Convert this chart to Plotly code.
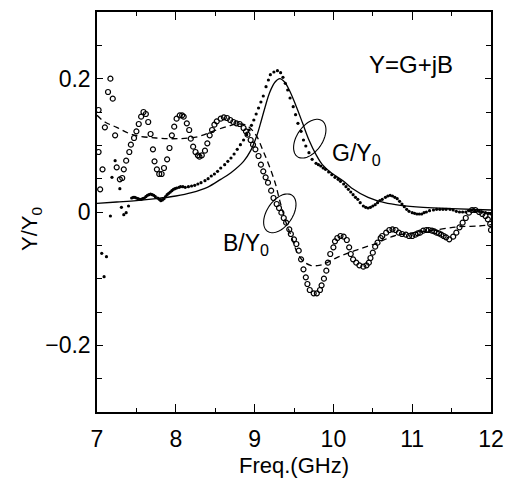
import numpy as np
import plotly.graph_objects as go

# ---------------- data ----------------
# Measured B/Y0 (open circles)
b_meas_f = [7.02, 7.04, 7.02, 7.07, 7.10, 7.14, 7.17, 7.20, 7.23, 7.25, 7.29, 7.32, 7.34, 7.37, 7.41,
            7.43, 7.47, 7.50, 7.53, 7.56, 7.59, 7.62, 7.65, 7.68, 7.71, 7.73, 7.76, 7.79, 7.82, 7.85,
            7.89, 7.92, 7.95, 7.98, 8.01, 8.05, 8.08, 8.10, 8.14, 8.17, 8.19, 8.22, 8.25, 8.28, 8.30,
            8.33, 8.37, 8.40, 8.43, 8.46, 8.49, 8.52, 8.57, 8.61, 8.65, 8.69, 8.73, 8.77, 8.81, 8.86,
            8.89, 8.91, 8.95, 8.98, 9.01, 9.05, 9.08, 9.11, 9.14, 9.17, 9.21, 9.24, 9.28, 9.31, 9.34,
            9.37, 9.40, 9.44, 9.46, 9.50, 9.53, 9.56, 9.59, 9.62, 9.65, 9.67, 9.70, 9.75, 9.79, 9.83,
            9.85, 9.88, 9.91, 9.93, 9.96, 10.00, 10.02, 10.05, 10.09, 10.13, 10.17, 10.20, 10.22, 10.25,
            10.29, 10.33, 10.38, 10.42, 10.45, 10.47, 10.50, 10.53, 10.56, 10.60, 10.62, 10.67, 10.71,
            10.75, 10.79, 10.83, 10.87, 10.92, 10.96, 11.00, 11.04, 11.07, 11.10, 11.14, 11.18, 11.21,
            11.25, 11.28, 11.31, 11.34, 11.37, 11.40, 11.43, 11.47, 11.52, 11.56, 11.60, 11.64, 11.68,
            11.72, 11.76, 11.80, 11.85, 11.89, 11.93, 11.96, 11.99, 12.00]
b_meas = [0.153, 0.034, 0.090, 0.064, 0.127, 0.180, 0.200, 0.170, 0.115, 0.067, 0.049, 0.051, 0.064, 0.077, 0.090,
          0.101, 0.111, 0.121, 0.132, 0.143, 0.150, 0.147, 0.135, 0.117, 0.094, 0.076, 0.064, 0.057, 0.057, 0.066,
          0.079, 0.096, 0.115, 0.128, 0.140, 0.145, 0.145, 0.143, 0.133, 0.123, 0.110, 0.098, 0.090, 0.085, 0.083,
          0.085, 0.092, 0.103, 0.115, 0.123, 0.131, 0.136, 0.140, 0.142, 0.141, 0.138, 0.135, 0.133, 0.132, 0.126,
          0.121, 0.116, 0.108, 0.101, 0.094, 0.084, 0.071, 0.061, 0.052, 0.044, 0.032, 0.021, 0.012, 0.006, -0.001,
          -0.009, -0.016, -0.026, -0.033, -0.041, -0.048, -0.058, -0.071, -0.086, -0.098, -0.108, -0.117, -0.122, -0.122, -0.117,
          -0.110, -0.100, -0.088, -0.076, -0.063, -0.053, -0.044, -0.039, -0.036, -0.037, -0.042, -0.053, -0.063, -0.071,
          -0.076, -0.080, -0.082, -0.080, -0.076, -0.069, -0.061, -0.052, -0.046, -0.039, -0.036, -0.031, -0.027,
          -0.026, -0.027, -0.031, -0.033, -0.034, -0.036, -0.036, -0.034, -0.032, -0.031, -0.028, -0.027, -0.027,
          -0.028, -0.029, -0.031, -0.032, -0.034, -0.036, -0.038, -0.041, -0.037, -0.031, -0.023, -0.016, -0.009,
          -0.001, 0.003, 0.003, 0.000, -0.003, -0.006, -0.011, -0.018, -0.027]

# Measured G/Y0 (small filled dots)
g_meas_f = [7.06, 7.09, 7.12, 7.17, 7.19, 7.23, 7.29, 7.31, 7.34, 7.37, 7.40,
            7.44, 7.46, 7.48, 7.50, 7.52, 7.54, 7.56, 7.58, 7.60, 7.62, 7.64, 7.66, 7.68, 7.70, 7.72,
            7.74, 7.77, 7.79, 7.81, 7.83, 7.85, 7.87, 7.89, 7.91, 7.93, 7.95, 7.97, 7.99, 8.01, 8.04,
            8.06, 8.09, 8.12, 8.16, 8.20, 8.24, 8.28, 8.32, 8.37, 8.41, 8.45, 8.49, 8.53, 8.57, 8.62,
            8.66, 8.70, 8.74, 8.78, 8.82, 8.86, 8.90, 8.93, 8.96, 8.99, 9.02, 9.05, 9.08, 9.11, 9.145,
            9.175, 9.20, 9.245, 9.29, 9.33, 9.36, 9.39, 9.42, 9.45, 9.49, 9.52, 9.55, 9.59, 9.62, 9.65,
            9.69, 9.73, 9.78, 9.81, 9.84, 9.87, 9.90, 9.94, 9.98, 10.02, 10.06, 10.09, 10.13, 10.16,
            10.19, 10.22, 10.25, 10.28, 10.31, 10.34, 10.38, 10.41, 10.44, 10.47, 10.50, 10.53, 10.56,
            10.59, 10.62, 10.66, 10.69, 10.72, 10.75, 10.78, 10.81, 10.84, 10.87, 10.90, 10.93, 10.96,
            11.00, 11.03, 11.06, 11.09, 11.12, 11.15, 11.18, 11.22, 11.27, 11.31, 11.35, 11.39, 11.43,
            11.48, 11.52, 11.56, 11.60, 11.64, 11.68, 11.72, 11.76, 11.80, 11.85, 11.89, 11.93, 11.97, 12.00]
g_meas = [-0.062, -0.097, -0.067, -0.006, 0.052, 0.077, 0.035, 0.007, -0.004, -0.001, 0.009,
          0.021, 0.022, 0.022, 0.021, 0.020, 0.019, 0.019, 0.020, 0.021, 0.023, 0.025, 0.026, 0.027, 0.026, 0.025,
          0.023, 0.021, 0.019, 0.017, 0.018, 0.020, 0.023, 0.026, 0.028, 0.030, 0.032, 0.034, 0.035, 0.036, 0.037,
          0.038, 0.038, 0.037, 0.038, 0.039, 0.040, 0.042, 0.044, 0.047, 0.050, 0.054, 0.057, 0.061, 0.066, 0.071,
          0.076, 0.081, 0.087, 0.094, 0.101, 0.108, 0.116, 0.123, 0.130, 0.138, 0.147, 0.156, 0.165, 0.174, 0.188,
          0.198, 0.206, 0.210, 0.212, 0.209, 0.202, 0.193, 0.183, 0.171, 0.158, 0.146, 0.133, 0.121, 0.108, 0.099,
          0.089, 0.079, 0.073, 0.071, 0.069, 0.066, 0.064, 0.060, 0.056, 0.052, 0.049, 0.046, 0.042, 0.038,
          0.034, 0.030, 0.026, 0.022, 0.019, 0.014, 0.009, 0.007, 0.006, 0.007, 0.009, 0.011, 0.014,
          0.017, 0.019, 0.022, 0.024, 0.025, 0.024, 0.022, 0.020, 0.016, 0.012, 0.008, 0.004, 0.001,
          -0.001, -0.002, -0.003, -0.003, -0.003, -0.001, 0.000, 0.002, 0.003, 0.004, 0.004, 0.004, 0.004,
          0.004, 0.003, 0.001, 0.000, 0.000, 0.000, 0.002, 0.003, 0.002, 0.001, 0.000, -0.001, -0.002, -0.003]

# Theoretical G/Y0 (solid line)
g_th_f = [7.0, 7.25, 7.5, 7.75, 8.0, 8.2, 8.4, 8.57, 8.7, 8.86, 8.95, 9.03, 9.08, 9.13, 9.19, 9.26,
          9.32, 9.38, 9.44, 9.53, 9.61, 9.69, 9.78, 9.86, 9.98, 10.13, 10.23, 10.44, 10.65, 10.85,
          11.14, 11.5, 12.0]
g_th = [0.013, 0.015, 0.017, 0.020, 0.024, 0.029, 0.037, 0.049, 0.059, 0.076, 0.092, 0.115, 0.135, 0.156, 0.179, 0.195,
        0.200, 0.195, 0.183, 0.158, 0.133, 0.108, 0.086, 0.071, 0.058, 0.046, 0.036, 0.022, 0.014, 0.010,
        0.007, 0.005, 0.003]

# Theoretical B/Y0 (dashed line)
b_th_f = [7.0, 7.1, 7.25, 7.45, 7.75, 8.03, 8.28, 8.49, 8.70, 8.82, 8.90, 8.96, 9.03, 9.10, 9.15, 9.22,
          9.27, 9.31, 9.35, 9.40, 9.47, 9.53, 9.61, 9.71, 9.82, 9.92, 10.05, 10.27, 10.52, 10.77, 11.02,
          11.35, 11.60, 11.85, 12.0]
b_th = [0.145, 0.135, 0.127, 0.116, 0.111, 0.110, 0.113, 0.122, 0.130, 0.132, 0.130, 0.124, 0.113, 0.094, 0.080, 0.058,
        0.040, 0.021, 0.004, -0.016, -0.038, -0.058, -0.073, -0.080, -0.080, -0.076, -0.068, -0.058, -0.048, -0.036, -0.031,
        -0.026, -0.022, -0.021, -0.019]

x_ticks = [7, 8, 9, 10, 11, 12]
y_ticks = [-0.2, 0, 0.2]

# ---------------- figure ----------------
FONT = "Liberation Sans, Arial, Helvetica, sans-serif"
W, H = 514, 478
ML, MR, MT, MB = 97, 15, 10, 66
XR, YR = (7, 12), (-0.3, 0.3)
px_x = (W - ML - MR) / (XR[1] - XR[0])
px_y = (H - MT - MB) / (YR[1] - YR[0])

fig = go.Figure()
fig.add_trace(go.Scatter(x=g_th_f, y=g_th, mode="lines", line=dict(color="black", width=1.3, shape="spline"),
                         showlegend=False, hoverinfo="skip"))
fig.add_trace(go.Scatter(x=b_th_f, y=b_th, mode="lines",
                         line=dict(color="black", width=1.3, dash="6px,4px", shape="spline"),
                         showlegend=False, hoverinfo="skip"))
fig.add_trace(go.Scatter(x=b_meas_f, y=b_meas, mode="markers",
                         marker=dict(symbol="circle-open", size=5, color="black", line=dict(width=1.2, color="black")),
                         showlegend=False))
fig.add_trace(go.Scatter(x=g_meas_f, y=g_meas, mode="markers",
                         marker=dict(symbol="circle", size=3.2, color="black"),
                         showlegend=False))


def ellipse_path(fc, yc, a_px, b_px, ang_deg):
    t = np.linspace(0, 2 * np.pi, 73)
    th = np.deg2rad(ang_deg)
    dx = a_px * np.cos(t) * np.cos(th) - b_px * np.sin(t) * np.sin(th)
    dy = a_px * np.cos(t) * np.sin(th) + b_px * np.sin(t) * np.cos(th)
    xs = fc + dx / px_x
    ys = yc + dy / px_y
    pts = " L ".join(f"{x:.4f},{y:.5f}" for x, y in zip(xs, ys))
    return "M " + pts + " Z"


for fc, yc in [(9.70, 0.110), (9.32, -0.002)]:
    fig.add_shape(type="path", path=ellipse_path(fc, yc, 22, 13, 55), xref="x", yref="y",
                  line=dict(color="black", width=1.1))

fig.add_annotation(x=10.42, y=0.222, xref="x", yref="y", text="Y=G+jB", showarrow=False,
                   xanchor="left", yanchor="middle", font=dict(size=24, color="black", family=FONT))
fig.add_annotation(x=9.962, y=0.086, xref="x", yref="y", text="G/Y<sub>0</sub>", showarrow=False,
                   xanchor="left", yanchor="middle", font=dict(size=23, color="black", family=FONT))
fig.add_annotation(x=8.574, y=-0.049, xref="x", yref="y", text="B/Y<sub>0</sub>", showarrow=False,
                   xanchor="left", yanchor="middle", font=dict(size=23, color="black", family=FONT))

# axis titles
fig.add_annotation(x=-0.167, y=0.458, xref="paper", yref="paper", text="Y/Y<sub>0</sub>", showarrow=False,
                   textangle=-90, xanchor="center", yanchor="middle", font=dict(size=22, color="black", family=FONT))
fig.add_annotation(x=0.5, y=-0.134, xref="paper", yref="paper", text="Freq.(GHz)", showarrow=False,
                   xanchor="center", yanchor="middle", font=dict(size=22, color="black", family=FONT))

axis_common = dict(showgrid=False, zeroline=False, showline=True, linecolor="black", linewidth=1.5,
                   mirror="ticks", ticks="inside", tickcolor="black", tickwidth=1.2,
                   tickfont=dict(size=23, color="black", family=FONT))
fig.update_xaxes(range=list(XR), tickvals=x_ticks, ticklen=8, ticklabelstandoff=6,
                 minor=dict(dtick=0.5, ticklen=4, ticks="inside", tickcolor="black", tickwidth=1.2),
                 **axis_common)
fig.update_yaxes(range=list(YR), tickvals=y_ticks, ticklen=6, ticklabelstandoff=0,
                 minor=dict(dtick=0.05, ticklen=5, ticks="inside", tickcolor="black", tickwidth=1.2),
                 **axis_common)

fig.update_layout(width=W, height=H, margin=dict(l=ML, r=MR, t=MT, b=MB),
                  paper_bgcolor="white", plot_bgcolor="white", font=dict(family=FONT, color="black"))

fig.write_html("out.html", config={"displayModeBar": False},
               post_script="document.body.style.margin='0';document.body.style.overflow='hidden';")
